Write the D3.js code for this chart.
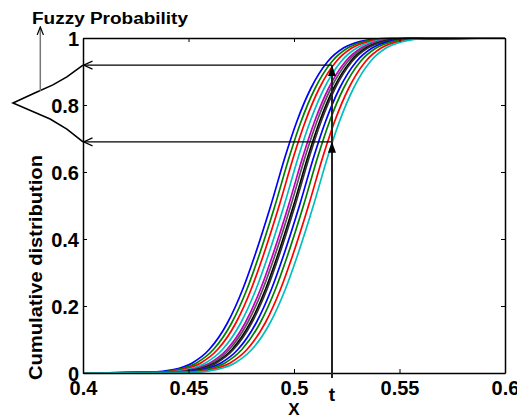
<!DOCTYPE html>
<html><head><meta charset="utf-8">
<script src="https://cdn.jsdelivr.net/npm/d3@7"></script>
<style>
body{margin:0;background:#fff;}
svg text{font-family:"Liberation Sans",Arial,sans-serif;font-weight:bold;fill:#000;}
</style></head>
<body><svg id="c" width="517" height="418"></svg>
<script>
// ---- data ----
const xTicks = [0.4, 0.45, 0.5, 0.55, 0.6];
const yTicks = [0, 0.2, 0.4, 0.6, 0.8, 1];
const yTickLabels = ["0", "0.2", "0.4", "0.6", "0.8", "1"];
const cdfLevels = [0, 0.002, 0.01, 0.03, 0.07, 0.15, 0.25, 0.35, 0.5, 0.65, 0.75, 0.85, 0.93, 0.97, 0.99, 0.998, 1];
const curveColors = ["#0000ff","#008000","#ff0000","#00bfbf","#bf00bf","#555555","#000000","#333333","#0000ff","#008000","#ff0000","#00bfbf"];
const curve1  = [0.4,0.4320,0.4429,0.4518,0.4598,0.4685,0.4757,0.4814,0.4890,0.4960,0.5013,0.5080,0.5160,0.5234,0.5316,0.5417,0.6];
const curve2  = [0.4,0.4340,0.4449,0.4538,0.4618,0.4705,0.4777,0.4834,0.4910,0.4980,0.5033,0.5100,0.5180,0.5254,0.5336,0.5437,0.6];
const curve3  = [0.4,0.4360,0.4469,0.4558,0.4638,0.4725,0.4797,0.4854,0.4930,0.5000,0.5053,0.5120,0.5200,0.5274,0.5356,0.5457,0.6];
const curve4  = [0.4,0.4383,0.4492,0.4581,0.4661,0.4748,0.4820,0.4877,0.4953,0.5023,0.5076,0.5143,0.5223,0.5297,0.5379,0.5480,0.6];
const curve5  = [0.4,0.4404,0.4513,0.4602,0.4682,0.4769,0.4841,0.4898,0.4974,0.5044,0.5097,0.5164,0.5244,0.5318,0.5400,0.5501,0.6];
const curve6  = [0.4,0.4415,0.4524,0.4613,0.4693,0.4780,0.4852,0.4909,0.4985,0.5055,0.5108,0.5175,0.5255,0.5329,0.5411,0.5512,0.6];
const curve7  = [0.4,0.4428,0.4537,0.4626,0.4706,0.4793,0.4865,0.4922,0.4998,0.5068,0.5121,0.5188,0.5268,0.5342,0.5424,0.5525,0.6];
const curve8  = [0.4,0.4435,0.4544,0.4633,0.4713,0.4800,0.4872,0.4929,0.5005,0.5075,0.5128,0.5195,0.5275,0.5349,0.5431,0.5532,0.6];
const curve9  = [0.4,0.4456,0.4565,0.4654,0.4734,0.4821,0.4893,0.4950,0.5026,0.5096,0.5149,0.5216,0.5296,0.5370,0.5452,0.5553,0.6];
const curve10 = [0.4,0.4475,0.4584,0.4673,0.4753,0.4840,0.4912,0.4969,0.5045,0.5115,0.5168,0.5235,0.5315,0.5389,0.5471,0.5572,0.6];
const curve11 = [0.4,0.4499,0.4608,0.4697,0.4777,0.4864,0.4936,0.4993,0.5069,0.5139,0.5192,0.5259,0.5339,0.5413,0.5495,0.5596,0.6];
const curve12 = [0.4,0.4522,0.4631,0.4720,0.4800,0.4887,0.4959,0.5016,0.5092,0.5162,0.5215,0.5282,0.5362,0.5436,0.5518,0.5619,0.6];
const curvesX = [curve1,curve2,curve3,curve4,curve5,curve6,curve7,curve8,curve9,curve10,curve11,curve12];
// annotation values
const tValue = 0.518;
const probLow = 0.69, probUp = 0.919;
// fuzzy probability membership function (probability, membership degree)
const fuzzyP = [0.69, 0.728, 0.758, 0.806, 0.836, 0.860, 0.884, 0.919];
const fuzzyM = [0, 0.23, 0.47, 1, 0.69, 0.43, 0.23, 0];
const fuzzyAxisM = 0.61, fuzzyAxisFrom = 0.842, fuzzyAxisTo = 1.033;

// ---- layout ----
const W = 517, H = 418;
const m = {l:83, t:38, r:12, b:45};
const svg = d3.select("#c");
const x = d3.scaleLinear().domain([0.4,0.6]).range([m.l, W-m.r]);
const y = d3.scaleLinear().domain([0,1]).range([H-m.b, m.t]);
const mScale = d3.scaleLinear().domain([0,1]).range([x(0.4), x(0.4)-70]);

const defs = svg.append("defs");
defs.append("marker").attr("id","openArr").attr("viewBox","0 -5 10 10")
  .attr("refX",9).attr("refY",0).attr("markerWidth",10).attr("markerHeight",10)
  .attr("markerUnits","userSpaceOnUse").attr("orient","auto")
  .append("path").attr("d","M0,-4L9,0L0,4").attr("fill","none").attr("stroke","#000").attr("stroke-width",1.2);
defs.append("marker").attr("id","fillArr").attr("viewBox","0 -5 12 10")
  .attr("refX",11).attr("refY",0).attr("markerWidth",12).attr("markerHeight",10)
  .attr("markerUnits","userSpaceOnUse").attr("orient","auto")
  .append("path").attr("d","M0,-4L11,0L0,4Z").attr("fill","#000");
defs.append("marker").attr("id","smallArr").attr("viewBox","0 -5 10 10")
  .attr("refX",9).attr("refY",0).attr("markerWidth",9).attr("markerHeight",9)
  .attr("markerUnits","userSpaceOnUse").attr("orient","auto")
  .append("path").attr("d","M0,-3.5L9,0L0,3.5").attr("fill","none").attr("stroke","#000").attr("stroke-width",1.3);

// curves
const line = d3.line().x(d=>x(d[0])).y(d=>y(d[1])).curve(d3.curveMonotoneX);
const gCurves = svg.append("g");
curvesX.forEach((cx,i)=>{
  gCurves.append("path").datum(cx.map((v,j)=>[v,cdfLevels[j]]))
    .attr("d",line).attr("fill","none").attr("stroke",curveColors[i]).attr("stroke-width",1.7);
});

// axes (box with inward ticks)
const fmtY = d => yTickLabels[yTicks.indexOf(d)];
const fmtX = d => String(d);
const ax = svg.append("g");
const gB = ax.append("g").attr("transform",`translate(0,${y(0)})`)
  .call(d3.axisBottom(x).tickValues(xTicks).tickFormat(fmtX).tickSizeInner(-4).tickSizeOuter(0).tickPadding(8));
const gT = ax.append("g").attr("transform",`translate(0,${y(1)})`)
  .call(d3.axisTop(x).tickValues(xTicks).tickFormat("").tickSizeInner(-4).tickSizeOuter(0));
const gL = ax.append("g").attr("transform",`translate(${x(0.4)},0)`)
  .call(d3.axisLeft(y).tickValues(yTicks).tickFormat(fmtY).tickSizeInner(-4).tickSizeOuter(0).tickPadding(4));
const gR = ax.append("g").attr("transform",`translate(${x(0.6)},0)`)
  .call(d3.axisRight(y).tickValues(yTicks).tickFormat("").tickSizeInner(-4).tickSizeOuter(0));
ax.selectAll(".domain").attr("stroke","#000").attr("stroke-width",1.5);
ax.selectAll(".tick line").attr("stroke","#000").attr("stroke-width",1);
ax.selectAll(".tick text").attr("font-size",20).attr("font-family","Liberation Sans, Arial, sans-serif").attr("font-weight","bold");
gL.selectAll(".tick text").attr("dy","0.36em");

// horizontal arrows from t to axis
[probUp, probLow].forEach(p=>{
  svg.append("line").attr("x1",x(tValue)).attr("y1",y(p)).attr("x2",x(0.4)+0.5).attr("y2",y(p))
    .attr("stroke","#000").attr("stroke-width",1.2).attr("marker-end","url(#openArr)");
});
// vertical t line
svg.append("line").attr("x1",x(tValue)).attr("x2",x(tValue)).attr("y1",y(0)+5).attr("y2",y(probLow))
  .attr("stroke","#222").attr("stroke-width",2).attr("marker-end","url(#fillArr)");
svg.append("line").attr("x1",x(tValue)).attr("x2",x(tValue)).attr("y1",y(probLow)).attr("y2",y(probUp))
  .attr("stroke","#222").attr("stroke-width",2).attr("marker-end","url(#fillArr)");

// fuzzy membership function
const fLine = d3.line().x(d=>mScale(d[1])).y(d=>y(d[0]));
svg.append("path").datum(fuzzyP.map((p,i)=>[p,fuzzyM[i]])).attr("d",fLine)
  .attr("fill","none").attr("stroke","#000").attr("stroke-width",1.6);
svg.append("line").attr("x1",mScale(fuzzyAxisM)).attr("x2",mScale(fuzzyAxisM))
  .attr("y1",y(fuzzyAxisFrom)).attr("y2",y(fuzzyAxisTo))
  .attr("stroke","#777").attr("stroke-width",1.5).attr("marker-end","url(#smallArr)");

// texts
svg.append("text").attr("x",32).attr("y",24).attr("font-size",16).attr("textLength",156)
  .attr("lengthAdjust","spacingAndGlyphs").text("Fuzzy Probability");
svg.append("text").attr("transform",`translate(42,${(155+380)/2}) rotate(-90)`).attr("text-anchor","middle")
  .attr("font-size",19).attr("textLength",225).attr("lengthAdjust","spacingAndGlyphs").text("Cumulative distribution");
svg.append("text").attr("x",(x(0.4)+x(0.6))/2).attr("y",415).attr("text-anchor","middle").attr("font-size",17).text("X");
svg.append("text").attr("x",x(tValue)).attr("y",401).attr("text-anchor","middle").attr("font-size",19).text("t");
</script></body></html>
